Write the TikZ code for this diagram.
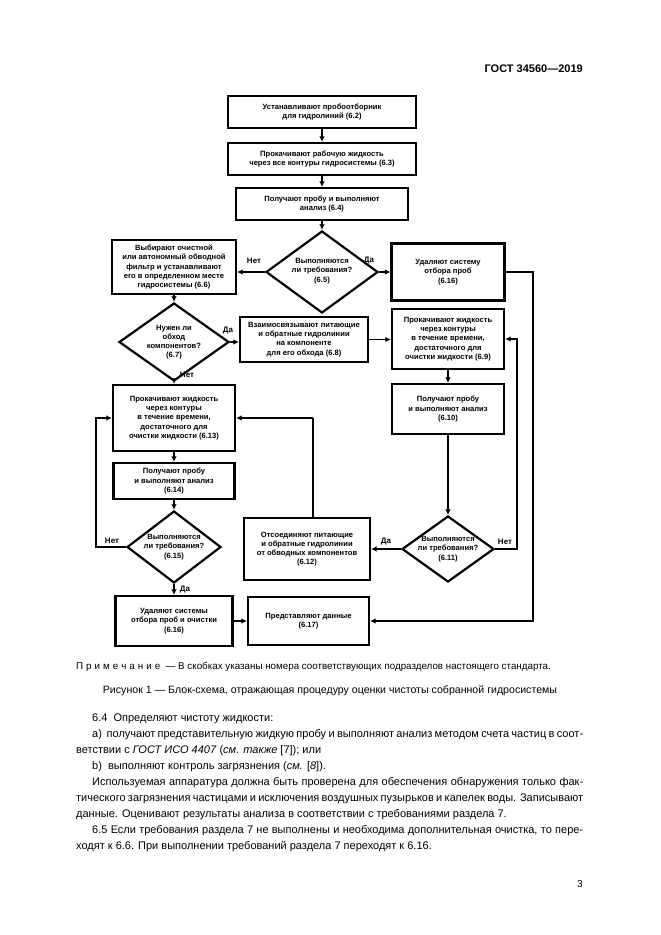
\documentclass[tikz,border=0pt]{standalone}
\usepackage{fontspec}
\setmainfont{Liberation Sans}
\usetikzlibrary{arrows.meta,shapes.geometric}
\begin{document}
\begin{tikzpicture}[x=1pt,y=-1pt,
  box/.style={draw, line width=2.2pt, align=center, inner sep=1pt, font=\bfseries\fontsize{7.6}{9.2}\selectfont},
  dia/.style={draw, diamond, line width=2.2pt, inner sep=0pt},
  dtext/.style={align=center, inner sep=0pt, font=\bfseries\fontsize{7.6}{9.2}\selectfont},
  arr/.style={line width=1.8pt, -{Latex[length=5.5pt,width=5.5pt]}},
  ln/.style={line width=1.8pt},
  lbl/.style={font=\bfseries\fontsize{8}{9}\selectfont, inner sep=0pt},
  body/.style={anchor=base west, inner sep=0pt, font=\fontsize{11}{13}\selectfont},
]
\useasboundingbox (0,0) rectangle (661,935);
\fill[white] (0,0) rectangle (661,935);

\node[anchor=base east, inner sep=0pt, font=\bfseries\fontsize{11}{13}\selectfont] (hdr) at (583,72) {ГОСТ 34560—2019};

% boxes
\node[box, minimum width=188pt, minimum height=32pt] (b62) at (322,112) {Устанавливают пробоотборник\\для гидролиний (6.2)};
\node[box, minimum width=188pt, minimum height=32pt] (b63) at (322,159) {Прокачивают рабочую жидкость\\через все контуры гидросистемы (6.3)};
\node[box, minimum width=172pt, minimum height=32pt] (b64) at (322,204) {Получают пробу и выполняют\\анализ (6.4)};
\node[dia, minimum width=112pt, minimum height=82pt] (d65) at (322,272) {};
\node[dtext] at (322,271) {Выполняются\\ли требования?\\(6.5)};
\node[box, minimum width=124pt, minimum height=54pt] (b66) at (174,267) {Выбирают очистной\\или автономный обводной\\фильтр и устанавливают\\его в определенном месте\\гидросистемы (6.6)};
\node[box, minimum width=113pt, minimum height=57pt] (b616a) at (448,272) {Удаляют систему\\отбора проб\\(6.16)};
\node[dia, minimum width=110pt, minimum height=78pt] (d67) at (174,342) {};
\node[dtext] at (174,342) {Нужен ли\\обход\\компонентов?\\(6.7)};
\node[box, minimum width=128pt, minimum height=45pt] (b68) at (304,339.5) {Взаимосвязывают питающие\\и обратные гидролинии\\на компоненте\\для его обхода (6.8)};
\node[box, minimum width=112pt, minimum height=60pt] (b69) at (448,339) {Прокачивают жидкость\\через контуры\\в течение времени,\\достаточного для\\очистки жидкости (6.9)};
\node[box, minimum width=122pt, minimum height=66pt] (b613) at (174,418) {Прокачивают жидкость\\через контуры\\в течение времени,\\достаточного для\\очистки жидкости (6.13)};
\node[box, minimum width=112pt, minimum height=50pt] (b610) at (448,409) {Получают пробу\\и выполняют анализ\\(6.10)};
\node[box, minimum width=121pt, minimum height=36pt] (b614) at (174,481) {Получают пробу\\и выполняют анализ\\(6.14)};
\node[dia, minimum width=94pt, minimum height=72pt] (d615) at (174,547) {};
\node[dtext] at (174,547) {Выполняются\\ли требования?\\(6.15)};
\node[box, minimum width=126pt, minimum height=62pt] (b612) at (307,549) {Отсоединяют питающие\\и обратные гидролинии\\от обводных компонентов\\(6.12)};
\node[dia, minimum width=92pt, minimum height=66pt] (d611) at (448,549) {};
\node[dtext] at (448,549) {Выполняются\\ли требования?\\(6.11)};
\node[box, minimum width=117pt, minimum height=50pt] (b616b) at (174,621) {Удаляют системы\\отбора проб и очистки\\(6.16)};
\node[box, minimum width=121pt, minimum height=48pt] (b617) at (308.5,621) {Представляют данные\\(6.17)};

% connectors
\draw[arr] (b62.south) -- (b63.north);
\draw[arr] (b63.south) -- (b64.north);
\draw[arr] (b64.south) -- (d65.north);
\draw[arr] (d65.west) -- (d65.west -| b66.east);
\draw[arr] (d65.east) -- (d65.east -| b616a.west);
\draw[arr] (b66.south) -- (d67.north);
\draw[arr] (d67.east) -- (d67.east -| b68.west);
\draw[arr] (d67.south) -- (b613.north);
\draw[arr] (b68.east) -- (b68.east -| b69.west);
\draw[arr] (b69.south) -- (b610.north);
\draw[arr] (b610.south) -- (d611.north);
\draw[arr] (d611.west) -- (d611.west -| b612.east);
\coordinate (r1) at (517,549);
\draw[arr] (d611.east) -- (r1) |- (b69.east);
\coordinate (u1) at (313,418);
\draw[ln] (b612.north -| u1) -- (u1);
\draw[arr] (u1) -- (b613.east);
\draw[arr] (b613.south) -- (b614.north);
\draw[arr] (b614.south) -- (d615.north);
\coordinate (l1) at (96,547);
\draw[arr] (d615.west) -- (l1) |- (b613.west);
\draw[arr] (d615.south) -- (b616b.north);
\draw[arr] (b616b.east) -- (b616b.east -| b617.west);
\coordinate (r2) at (533,272);
\draw[arr] (b616a.east) -- (r2) |- (b617.east);

% labels
\node[lbl] (n1) at (254,261) {Нет};
\node[lbl] (y1) at (369,261) {Да};
\node[lbl] (y2) at (228,331) {Да};
\node[lbl] (n2) at (187,375) {Нет};
\node[lbl] (n3) at (112,541) {Нет};
\node[lbl] (y3) at (185,590) {Да};
\node[lbl] (y4) at (386,542) {Да};
\node[lbl] (n4) at (505,542) {Нет};

% note and caption
\node[anchor=base west, inner sep=0pt, font=\fontsize{9.8}{11}\selectfont] (note) at (76,669) {П\hspace{3pt}р\hspace{3pt}и\hspace{3pt}м\hspace{3pt}е\hspace{3pt}ч\hspace{3pt}а\hspace{3pt}н\hspace{3pt}и\hspace{3pt}е\ \ — В скобках указаны номера соответствующих подразделов настоящего стандарта.};
\node[anchor=base, inner sep=0pt, font=\fontsize{10.6}{12}\selectfont] (cap) at (330,693) {Рисунок 1 — Блок-схема, отражающая процедуру оценки чистоты собранной гидросистемы};

% body text
\node[body] (t1) at (92,721) {6.4\ \ Определяют чистоту жидкости:};
\node[body] (t2) at (92,737) {\makebox[491pt][s]{a)\ \ получают представительную жидкую пробу и выполняют анализ методом счета частиц в соот-}};
\node[body] (t3) at (76,753) {ветствии с \textit{ГОСТ ИСО 4407} (\textit{см. также} [7]); или};
\node[body] (t4) at (92,769) {b)\ \ выполняют контроль загрязнения (\textit{см.} [\textit{8}]).};
\node[body] (t5) at (92,785) {\makebox[491pt][s]{Используемая аппаратура должна быть проверена для обеспечения обнаружения только фак-}};
\node[body] (t6) at (76,801) {\makebox[507pt][s]{тического загрязнения частицами и исключения воздушных пузырьков и капелек воды. Записывают}};
\node[body] (t7) at (76,817) {данные. Оценивают результаты анализа в соответствии с требованиями раздела 7.};
\node[body] (t8) at (92,833) {\makebox[491pt][s]{6.5 Если требования раздела 7 не выполнены и необходима дополнительная очистка, то пере-}};
\node[body] (t9) at (76,849) {ходят к 6.6. При выполнении требований раздела 7 переходят к 6.16.};

\node[anchor=base east, inner sep=0pt, font=\fontsize{10}{12}\selectfont] (pg) at (583,887) {3};
\end{tikzpicture}
\end{document}
